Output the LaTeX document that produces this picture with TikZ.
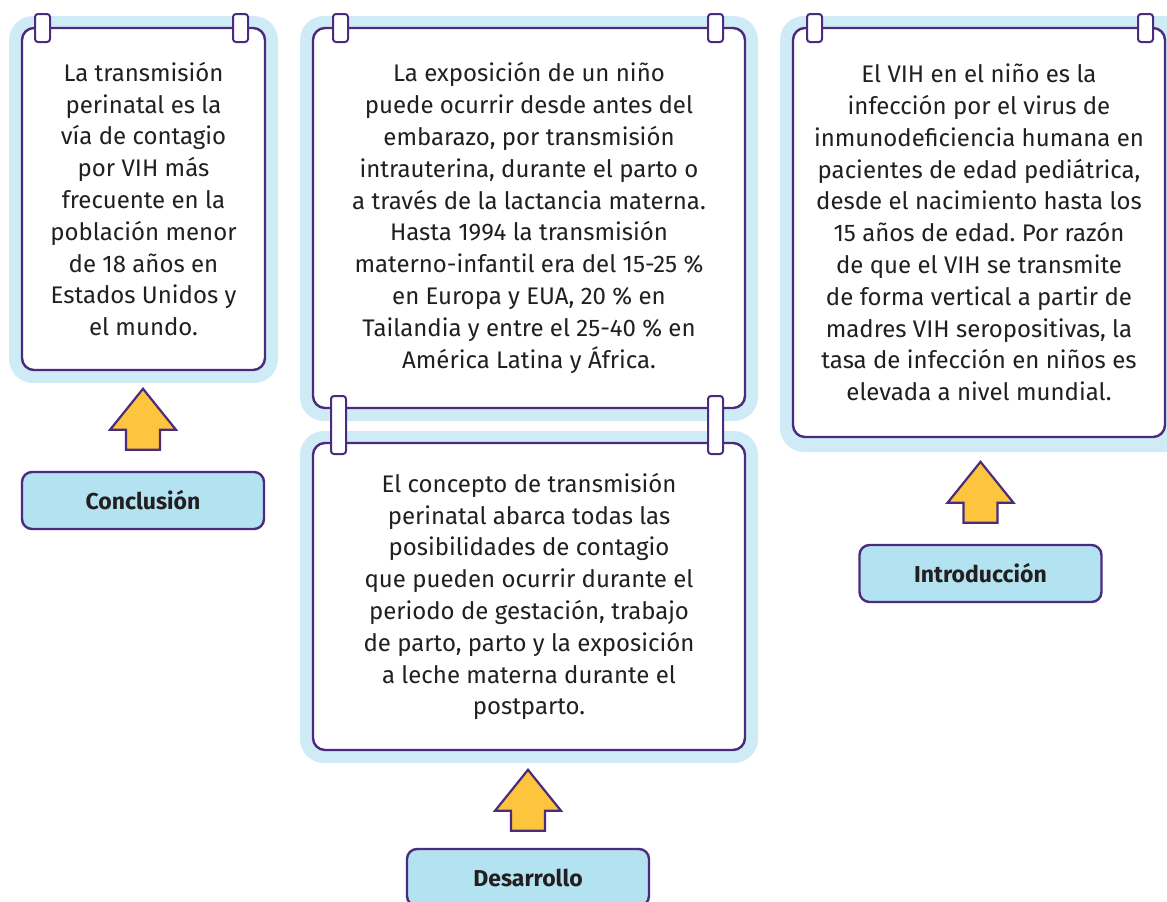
\documentclass[tikz,border=0pt]{standalone}
\usepackage{fontspec}
\setmainfont{Fira Sans}
\usetikzlibrary{calc}
\definecolor{cardline}{HTML}{4B2B7E}
\definecolor{cardback}{HTML}{CFECF6}
\definecolor{labelfill}{HTML}{B3E2F1}
\definecolor{arrowfill}{HTML}{FDC53D}
\definecolor{inktext}{HTML}{231F20}
\frenchspacing
\begin{document}
\begin{tikzpicture}[x=1pt,y=-1pt,
    card/.style={draw=cardline,line width=2.4pt,fill=white,rounded corners=12pt,align=center,inner sep=0,text=inktext,font=\fontsize{24}{31.8}\selectfont},
    lbl/.style={draw=cardline,line width=2.4pt,fill=labelfill,rounded corners=10pt,minimum width=242pt,minimum height=57pt,text=inktext,font=\fontsize{23}{26}\selectfont\bfseries},
    back/.style={fill=cardback,rounded corners=24pt},
    pin/.style={draw=cardline,line width=2pt,fill=white,rounded corners=3pt},
    arr/.style={draw=cardline,line width=2.2pt,fill=arrowfill,line join=miter},
    uparr/.pic={\draw[arr] (-17,0) -- (-17,-20) -- (-33,-20) -- (0,-61) -- (33,-20) -- (17,-20) -- (17,0) -- cycle;}]
  \useasboundingbox (0,0) rectangle (1167,902);
  \foreach \xa/\ya/\xb/\yb in {9/16/278/383, 300/16/758/421, 300/431/758/763, 780/16/1190/452}
    \path[back] (\xa,\ya) rectangle (\xb,\yb);

  \node[card,minimum width=243pt,minimum height=342pt] (cconc) at (143.5,199) {La transmisión\\perinatal es la\\vía de contagio\\por VIH más\\frecuente en la\\población menor\\de 18 años en\\Estados Unidos y\\el mundo.};
  \node[card,minimum width=432pt,minimum height=380pt] (cdes1) at (529,218) {La exposición de un niño\\puede ocurrir desde antes del\\embarazo, por transmisión\\intrauterina, durante el parto o\\a través de la lactancia materna.\\Hasta 1994 la transmisión\\materno-infantil era del 15-25 \%\\en Europa y EUA, 20 \% en\\Tailandia y entre el 25-40 \% en\\América Latina y África.};
  \node[card,minimum width=432pt,minimum height=307pt] (cdes2) at (529,596.5) {El concepto de transmisión\\perinatal abarca todas las\\posibilidades de contagio\\que pueden ocurrir durante el\\periodo de gestación, trabajo\\de parto, parto y la exposición\\a leche materna durante el\\postparto.};
  \node[card,minimum width=372pt,minimum height=409pt] (cintro) at (979,232.5) {El VIH en el niño es la\\infección por el virus de\\inmunodeficiencia humana en\\pacientes de edad pediátrica,\\desde el nacimiento hasta los\\15 años de edad. Por razón\\de que el VIH se transmite\\de forma vertical a partir de\\madres VIH seropositivas, la\\tasa de infección en niños es\\elevada a nivel mundial.};

  \foreach \xa/\ya/\yb in {35/14/42, 233/14/42, 333/14/42, 708/14/42, 331/396/454, 708/396/454, 807/14/42, 1138/14/42}
    \draw[pin] (\xa,\ya) rectangle (\xa+15,\yb);

  \node[lbl] (conc) at (143,500.5) {Conclusión};
  \node[lbl] (desa) at (528,877.5) {Desarrollo};
  \node[lbl] (intro) at (980.5,573.5) {Introducción};
  \pic at ($(conc.north)+(0,-21)$) {uparr};
  \pic at ($(desa.north)+(0,-17)$) {uparr};
  \pic at ($(intro.north)+(0,-21)$) {uparr};
\end{tikzpicture}
\end{document}
